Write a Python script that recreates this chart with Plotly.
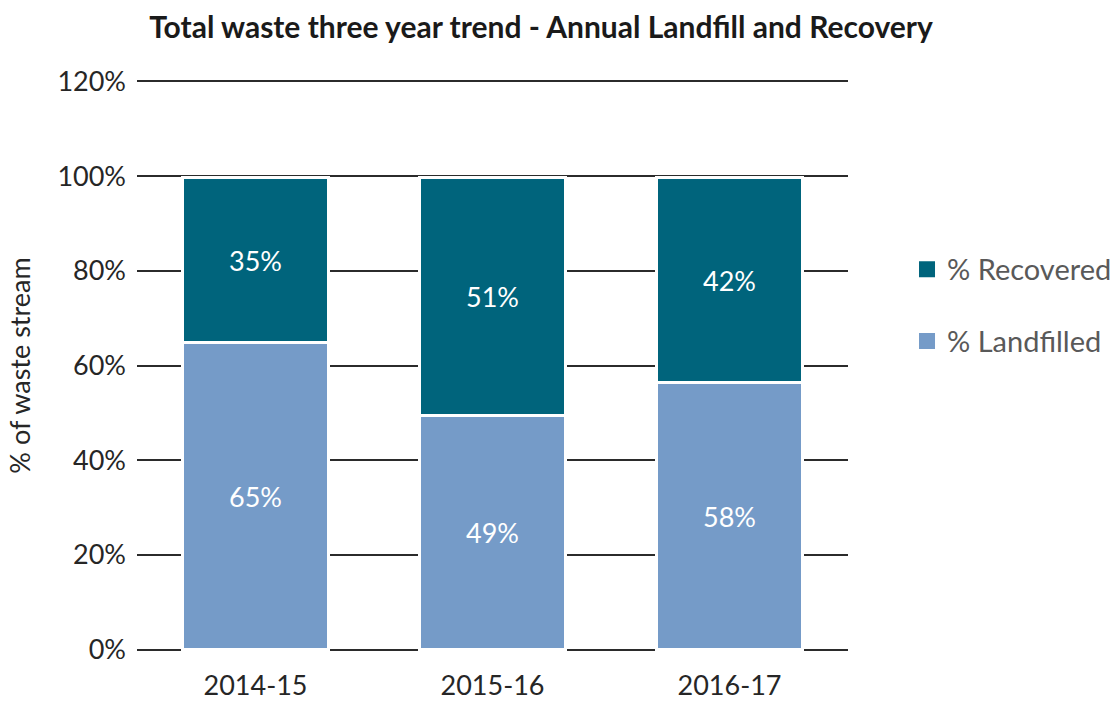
import plotly.graph_objects as go

years = ["2014-15", "2015-16", "2016-17"]
landfilled = [64.8, 49.5, 56.4]
recovered = [34.8, 50.1, 43.2]
landfilled_labels = ["65%", "49%", "58%"]
recovered_labels = ["35%", "51%", "42%"]
y_ticks = [0, 20, 40, 60, 80, 100, 120]

FONT = "Lato"
C_LAND = "#759bc8"
C_REC = "#00647c"

fig = go.Figure()
fig.add_trace(go.Bar(
    x=years, y=landfilled, name="% Landfilled", showlegend=False,
    marker=dict(color=C_LAND, line=dict(color="white", width=3)),
    text=landfilled_labels, textposition="inside", insidetextanchor="middle",
    textfont=dict(color="white", size=27, family=FONT), hoverinfo="skip",
))
fig.add_trace(go.Bar(
    x=years, y=recovered, name="% Recovered", showlegend=False,
    marker=dict(color=C_REC, line=dict(color="white", width=3)),
    text=recovered_labels, textposition="inside", insidetextanchor="middle",
    textfont=dict(color="white", size=27, family=FONT), hoverinfo="skip",
))
# legend entries with larger square swatches
for nm, col, grp in [("% Recovered", C_REC, "g1"), ("% Landfilled", C_LAND, "g2")]:
    fig.add_trace(go.Scatter(
        x=[None], y=[None], mode="markers", name=nm, legendgroup=grp,
        marker=dict(symbol="square", size=24, color=col), hoverinfo="skip",
    ))

fig.update_layout(
    width=1116, height=701, barmode="stack", bargap=0.385,
    plot_bgcolor="white", paper_bgcolor="white",
    margin=dict(l=137, r=268, t=79, b=49, autoexpand=False),
    title=dict(text="<b>Total waste three year trend - Annual Landfill and Recovery</b>",
               x=541/1116, xanchor="center", y=1 - 27/701, yanchor="middle", yref="container",
               font=dict(size=30, family=FONT, color="#1a1a1a")),
    font=dict(family=FONT, size=27, color="#262626"),
    legend=dict(x=1.083, xanchor="left", y=0.605, yanchor="middle",
                traceorder="grouped", tracegroupgap=31, itemsizing="trace",
                font=dict(size=29, color="#595959", family=FONT)),
    showlegend=True,
)
fig.update_yaxes(range=[-0.5, 120.5], tickvals=y_ticks, ticktext=[f"{v}%" for v in y_ticks],
                 showgrid=True, gridcolor="#2b2b2b", gridwidth=1.5, zeroline=False,
                 showline=False, ticks="", ticklen=0, ticklabelstandoff=10,
                 title=dict(text="% of waste stream", font=dict(size=27, family=FONT, color="#262626"), standoff=18),
                 tickfont=dict(size=27, color="#262626"))
fig.update_xaxes(showgrid=False, showline=False, ticks="", ticklabelstandoff=15,
                 tickfont=dict(size=27, color="#262626"))
fig.write_html("out.html")
